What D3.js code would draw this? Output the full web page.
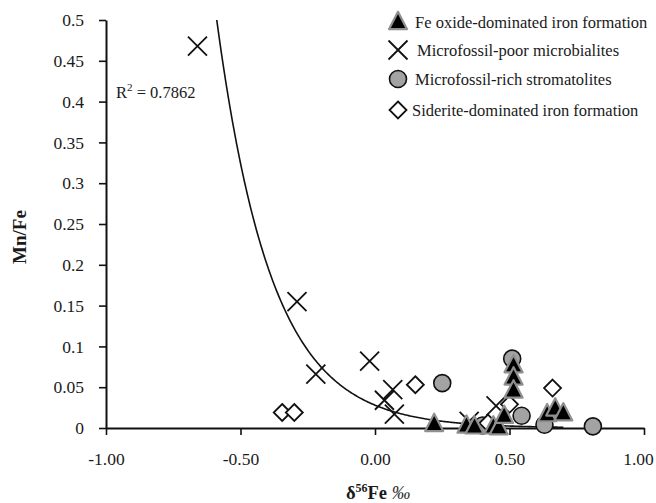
<!DOCTYPE html>
<html>
<head>
<meta charset="utf-8">
<script src="https://cdn.jsdelivr.net/npm/d3@7"></script>
<style>
  html, body { margin: 0; padding: 0; background: #fff; }
  svg { display: block; }
  text { font-family: "Liberation Serif", "Times New Roman", serif; fill: #1a1a1a; }
</style>
</head>
<body>
<svg id="chart" width="656" height="503"></svg>
<script>
// ---- Data ----
const feOxide = [ // Fe oxide-dominated iron formation
  [0.22, 0.005], [0.34, 0.003], [0.37, 0.002], [0.44, 0.002], [0.46, 0.001],
  [0.48, 0.015], [0.515, 0.077], [0.515, 0.062], [0.515, 0.046],
  [0.64, 0.017], [0.67, 0.024], [0.70, 0.018]
];
const microPoor = [ // Microfossil-poor microbialites
  [-0.66, 0.468], [-0.29, 0.155], [-0.22, 0.066], [-0.02, 0.082],
  [0.066, 0.047], [0.035, 0.034], [0.072, 0.017], [0.45, 0.027], [0.35, 0.008]
];
const microRich = [ // Microfossil-rich stromatolites
  [0.25, 0.055], [0.51, 0.085], [0.545, 0.015], [0.40, 0.003], [0.63, 0.004], [0.81, 0.002]
];
const siderite = [ // Siderite-dominated iron formation
  [-0.345, 0.019], [-0.30, 0.019], [0.15, 0.053], [0.66, 0.049], [0.50, 0.029], [0.42, 0.006]
];
const seriesNames = [
  "Fe oxide-dominated iron formation",
  "Microfossil-poor microbialites",
  "Microfossil-rich stromatolites",
  "Siderite-dominated iron formation"
];
const xTicks = [-1, -0.5, 0, 0.5, 1];
const yTicks = [0, 0.05, 0.1, 0.15, 0.2, 0.25, 0.3, 0.35, 0.4, 0.45, 0.5];
// exponential trendline y = a * exp(b * x)
const fitA = 0.028, fitB = -4.9, fitRange = [-0.66, 0.70];
const r2Label = "0.7862";

// ---- Layout ----
const svg = d3.select("#chart");
const mLeft = 106, mRight = 644, mTop = 20, mBottom = 428;
const x = d3.scaleLinear().domain([-1, 1]).range([mLeft, mRight]);
const y = d3.scaleLinear().domain([0, 0.5]).range([mBottom, mTop]);

// axes
const xAxis = svg.append("g").attr("transform", `translate(0,${mBottom})`)
  .call(d3.axisBottom(x).tickValues(xTicks).tickFormat(d3.format(".2f")).tickSizeInner(7).tickSizeOuter(0).tickPadding(18));
const yAxis = svg.append("g").attr("transform", `translate(${mLeft},0)`)
  .call(d3.axisLeft(y).tickValues(yTicks).tickFormat(d => String(+d.toFixed(2))).tickSizeInner(7).tickSizeOuter(0).tickPadding(15));
[xAxis, yAxis].forEach(g => {
  g.select(".domain").attr("stroke", "#111").attr("stroke-width", 2);
  g.selectAll(".tick line").attr("stroke", "#111").attr("stroke-width", 1.6);
  g.selectAll(".tick text").attr("font-size", 17.5).attr("fill", "#1a1a1a")
    .attr("font-family", '"Liberation Serif", "Times New Roman", serif');
});
xAxis.selectAll(".tick text").text(d => d3.format(".2f")(d).replace("−", "-"))
  .attr("dx", d => d === 1 ? -6 : 0);

// trendline
svg.append("clipPath").attr("id", "plotclip").append("rect")
  .attr("x", mLeft).attr("y", mTop).attr("width", mRight - mLeft).attr("height", mBottom - mTop);
const curvePts = d3.range(fitRange[0], fitRange[1] + 1e-9, 0.005).map(v => [v, fitA * Math.exp(fitB * v)]);
svg.append("path").attr("clip-path", "url(#plotclip)")
  .datum(curvePts)
  .attr("d", d3.line().x(d => x(d[0])).y(d => y(d[1])))
  .attr("fill", "none").attr("stroke", "#111").attr("stroke-width", 1.6);

// marker drawing helpers
function drawCircle(g, cx, cy) {
  g.append("circle").attr("cx", cx).attr("cy", cy).attr("r", 8.5)
    .attr("fill", "#a3a3a3").attr("stroke", "#111").attr("stroke-width", 1.6);
}
function drawDiamond(g, cx, cy) {
  const s = 8.5;
  g.append("path").attr("d", `M${cx},${cy - s}L${cx + s},${cy}L${cx},${cy + s}L${cx - s},${cy}Z`)
    .attr("fill", "#fff").attr("stroke", "#111").attr("stroke-width", 1.8);
}
function drawCross(g, cx, cy) {
  const s = 9.5;
  g.append("path").attr("d", `M${cx - s},${cy - s}L${cx + s},${cy + s}M${cx - s},${cy + s}L${cx + s},${cy - s}`)
    .attr("fill", "none").attr("stroke", "#111").attr("stroke-width", 1.8);
}
function drawTriangle(g, cx, cy) {
  const w = 9, h = 17;
  g.append("path").attr("d", `M${cx},${cy - h * 0.6}L${cx + w},${cy + h * 0.42}L${cx - w},${cy + h * 0.42}Z`)
    .attr("fill", "#000").attr("stroke", "#8f8f8f").attr("stroke-width", 2.2).attr("stroke-linejoin", "round");
}

const marks = svg.append("g");
microRich.forEach(d => drawCircle(marks, x(d[0]), y(d[1])));
microPoor.forEach(d => drawCross(marks, x(d[0]), y(d[1])));
siderite.forEach(d => drawDiamond(marks, x(d[0]), y(d[1])));
feOxide.forEach(d => drawTriangle(marks, x(d[0]), y(d[1])));

// R^2 label
const r2 = svg.append("text").attr("x", 116).attr("y", 98).attr("font-size", 16.5);
r2.append("tspan").text("R");
r2.append("tspan").attr("font-size", 11).attr("dy", -7).text("2");
r2.append("tspan").attr("dy", 7).text(" = " + r2Label);

// legend
const legend = svg.append("g");
const legY = [22, 50, 79, 110];
const drawers = [drawTriangle, drawCross, drawCircle, drawDiamond];
seriesNames.forEach((name, i) => {
  drawers[i](legend, 398, legY[i]);
  legend.append("text").attr("x", i === 1 ? 417 : (i === 3 ? 412 : 415)).attr("y", legY[i] + 5.5)
    .attr("font-size", 16.5).text(name);
});

// axis titles
svg.append("text").attr("transform", "translate(26,237) rotate(-90)")
  .attr("text-anchor", "middle").attr("font-size", 19).attr("font-weight", "bold").text("Mn/Fe");
const xt = svg.append("text").attr("x", 378).attr("y", 499).attr("text-anchor", "middle").attr("font-size", 18.5);
xt.append("tspan").attr("font-weight", "bold").text("δ");
xt.append("tspan").attr("font-weight", "bold").attr("font-size", 12).attr("dy", -7).text("56");
xt.append("tspan").attr("font-weight", "bold").attr("dy", 7).text("Fe");
xt.append("tspan").attr("font-style", "italic").attr("fill", "#333").text(" ‰");
</script>
</body>
</html>
